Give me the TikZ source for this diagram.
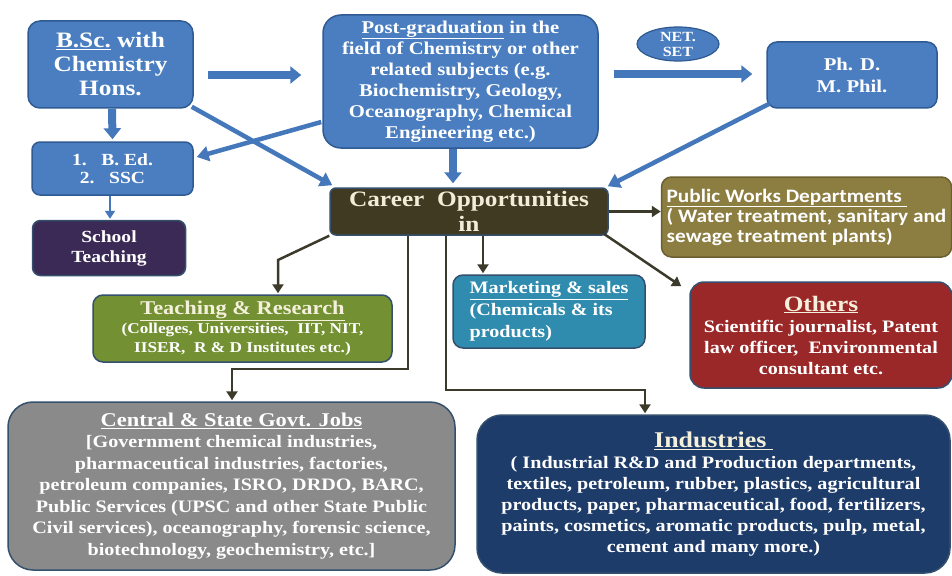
\documentclass[tikz,border=0pt]{standalone}
\usepackage{fontspec}
\setmainfont{Liberation Serif}[FakeStretch=1.15]
\newfontfamily\calfont{Carlito}[FakeStretch=1.12]
\usetikzlibrary{arrows.meta,shapes.geometric,calc}

\definecolor{bluebox}{HTML}{4A7EC0}
\definecolor{blueline}{HTML}{2F5A92}
\definecolor{bluearrow}{HTML}{4478BA}
\definecolor{purplebox}{HTML}{3A2A55}
\definecolor{careerbox}{HTML}{403A23}
\definecolor{careertext}{HTML}{F2EDD8}
\definecolor{pwdbox}{HTML}{8C7D41}
\definecolor{pwdline}{HTML}{6B5F30}
\definecolor{redbox}{HTML}{9B2828}
\definecolor{tealbox}{HTML}{308CAF}
\definecolor{greenbox}{HTML}{739132}
\definecolor{graybox}{HTML}{8A8A8A}
\definecolor{navybox}{HTML}{1E3C69}
\definecolor{darkline}{HTML}{3C3A2A}
\definecolor{boxedge}{HTML}{34506E}
\definecolor{cream}{HTML}{F4F0DC}

\newcommand{\fs}[2]{\fontsize{#1}{#2}\selectfont}

\begin{document}
\begin{tikzpicture}[x=1pt,y=-1pt,
  box/.style={draw=boxedge, line width=1.5pt, rounded corners=10pt, align=center,
    text=white, inner sep=0pt},
  bluebx/.style={box, fill=bluebox, draw=blueline},
  blk/.style={line width=8pt, draw=bluearrow, -{Triangle[length=11pt,width=17pt]}},
  thinblue/.style={line width=4.5pt, draw=bluearrow, -{Triangle[length=12pt,width=15pt]}},
  dk/.style={line width=2.5pt, draw=darkline, -{Triangle[length=9pt,width=11pt]}}
]
\path[use as bounding box, fill=white] (0,0) rectangle (952,575);

% top row
\node[bluebx, minimum width=165pt, minimum height=87pt, rounded corners=12pt,
  font=\bfseries\fs{22}{24}] (bsc) at (110.5,64.5)
  {\underline{B.Sc.} with\\Chemistry\\Hons.};
\node[bluebx, minimum width=275pt, minimum height=133pt, rounded corners=18pt,
  font=\bfseries\fs{18}{21}] (pg) at (460.5,81.5)
  {\underline{Post-graduation} in the\\field of Chemistry or other\\related subjects (e.g.\\Biochemistry, Geology,\\Oceanography, Chemical\\Engineering etc.)};
\node[bluebx, minimum width=170pt, minimum height=66pt, rounded corners=10pt,
  font=\bfseries\fs{18}{22}] (phd) at (852,75) {Ph. D.\\M. Phil.};
\node[ellipse, draw=blueline, fill=bluebox, line width=1.2pt, minimum width=82pt,
  minimum height=34pt, inner sep=0pt] (net) at (678,44) {};
\node[font=\bfseries\fs{14}{15}, text=white, align=center, inner sep=0pt]
  (nettext) at (net.center) {NET.\\SET};

% left column
\node[bluebx, minimum width=161pt, minimum height=53pt, rounded corners=8pt,
  font=\bfseries\fs{17}{18}] (bed) at (112.5,168.5)
  {1.\ \ \ B.\ Ed.\\2.\ \ \ SSC};
\node[box, fill=purplebox, minimum width=153pt, minimum height=55pt, rounded corners=8pt,
  font=\bfseries\fs{17}{20}] (school) at (109,248) {School\\Teaching};

% career
\node[box, fill=careerbox, draw=boxedge, minimum width=278pt, minimum height=47pt,
  rounded corners=6pt, text=careertext, font=\bfseries\fs{22}{25}] (career) at (469,211.5)
  {Career\ \ Opportunities\\in};

% right side
\node[box, fill=pwdbox, draw=pwdline, minimum width=290pt, minimum height=80pt,
  rounded corners=10pt, align=left, font=\calfont\bfseries\fs{19}{20}] (pwd) at (806.5,217)
  {\underline{Public Works Departments\ }\\( Water treatment, sanitary and\\sewage treatment plants)};
\node[box, fill=redbox, minimum width=262pt, minimum height=106pt, rounded corners=14pt,
  font=\bfseries\fs{17.5}{21}] (others) at (821,335)
  {{\fs{22}{24}\color{cream}\underline{Others}}\\Scientific journalist, Patent\\law officer,\ \ Environmental\\consultant etc.};
\node[box, fill=tealbox, minimum width=192pt, minimum height=73pt, rounded corners=10pt,
  align=left, font=\bfseries\fs{17.5}{22}] (market) at (549,311.5)
  {\underline{Marketing \& sales}\\(Chemicals \& its\\products)};
\node[box, fill=greenbox, minimum width=299pt, minimum height=67pt, rounded corners=10pt,
  font=\bfseries\fs{15}{19}] (teach) at (242.5,328.5)
  {{\fs{19.5}{22}\color{cream}\underline{Teaching \& Research}}\\(Colleges, Universities,\ \ IIT, NIT,\\IISER,\ \ R \& D Institutes etc.)};
\node[box, fill=graybox, minimum width=447pt, minimum height=168pt, rounded corners=25pt,
  font=\bfseries\fs{17.5}{21.5}] (govt) at (231.5,486)
  {{\fs{19.5}{22}\underline{Central \& State Govt. Jobs}}\\{}[Government chemical industries,\\pharmaceutical industries, factories,\\petroleum companies, ISRO, DRDO, BARC,\\Public Services (UPSC and other State Public\\Civil services), oceanography, forensic science,\\biotechnology, geochemistry, etc.]};
\node[box, fill=navybox, minimum width=473pt, minimum height=158pt, rounded corners=25pt,
  font=\bfseries\fs{17.5}{21}] (ind) at (713.5,494)
  {{\fs{22.5}{26}\color{cream}\underline{Industries\ }}\\( Industrial R\&D and Production departments,\\textiles, petroleum, rubber, plastics, agricultural\\products, paper, pharmaceutical, food, fertilizers,\\paints, cosmetics, aromatic products, pulp, metal,\\cement and many more.)};

% blue block arrows
\draw[blk] ($(bsc.east)+(14,10.5)$) -- ($(bsc.east -| pg.west)+(-21,10.5)$);
\draw[blk] ($(pg.east)+(15,-7.5)$) -- ($(pg.east -| phd.west)+(-14,-7.5)$);
\draw[blk] ($(bsc.south)+(1.5,0)$) -- ($(bed.north)+(0,-2)$);
\draw[blk] ($(pg.south)+(-7.5,0)$) -- ($(career.north)+(-16,-4)$);

% thin blue arrows
\draw[thinblue] ($(bsc.south east)+(-2,-2)$) -- ($(career.north west)+(3,-2)$);
\draw[thinblue] ($(pg.west)+(-1,40.5)$) -- ($(bed.east)+(3,-11.5)$);
\draw[thinblue] ($(phd.south west)+(3,-5)$) -- ($(career.north east)+(-1,-1)$);
\draw[line width=2.5pt, draw=bluearrow, -{Triangle[length=8pt,width=10pt]}]
  ($(bed.south)+(-2.5,0)$) -- ($(school.north)+(1,-1)$);

% dark connectors
\draw[dk] (career.east) -- (career.east -| pwd.west);
\draw[dk] ($(career.south east)+(-5,-2)$) -- ($(others.north west)+(-8,5)$);
\draw[dk] (career.south -| 483,0) -- ($(market.north -| 483,0)+(0,-1)$);
\draw[dk] (career.south west) -- (278,260) -- ($(teach.north -| 278,0)+(0,-1)$);
\draw[dk] (career.south -| 408,0) -- (408,369) -- (232,369) -- ($(govt.north -| 232,0)+(0,-1)$);
\draw[dk] (career.south -| 446,0) -- (446,390) -- (645,390) -- ($(ind.north -| 645,0)+(0,-1)$);
\end{tikzpicture}
\end{document}
